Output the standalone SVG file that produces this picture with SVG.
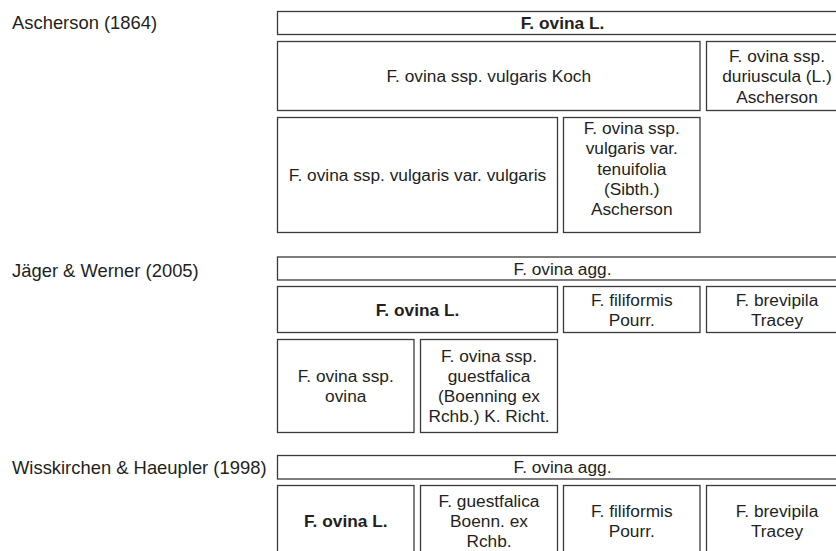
<svg xmlns="http://www.w3.org/2000/svg" width="836" height="551" viewBox="0 0 836 551">
<style>
rect { fill: #fff; stroke: #3a3a3a; stroke-width: 1.3; }
text { font-family: "Liberation Sans", Arial, sans-serif; fill: #231f20; }
.t { font-size: 17.3px; text-anchor: middle; }
.b { font-weight: bold; }
.lab { font-size: 18.4px; }
</style>
<rect x="0" y="0" width="836" height="551" style="stroke:none"/>
<g id="labels">
<text class="lab" x="12" y="29.3">Ascherson (1864)</text>
<text class="lab" x="12" y="277.3">Jäger &amp; Werner (2005)</text>
<text class="lab" x="12" y="474.3">Wisskirchen &amp; Haeupler (1998)</text>
</g>
<g id="connectors"></g>
<g id="a-ovina">
<rect x="277.5" y="11.5" width="570" height="23"/>
<text class="t b" x="562.5" y="29">F. ovina L.</text>
</g>
<g id="a-vulgaris">
<rect x="277.5" y="41.5" width="422.5" height="69"/>
<text class="t" x="488.75" y="82">F. ovina ssp. vulgaris Koch</text>
</g>
<g id="a-duriuscula">
<rect x="706.5" y="41.5" width="141" height="69"/>
<text class="t" x="777" y="61.5">F. ovina ssp.</text>
<text class="t" x="777" y="82">duriuscula (L.)</text>
<text class="t" x="777" y="102.5">Ascherson</text>
</g>
<g id="a-var-vulgaris">
<rect x="277.5" y="117.5" width="280" height="115"/>
<text class="t" x="417.5" y="181">F. ovina ssp. vulgaris var. vulgaris</text>
</g>
<g id="a-tenuifolia">
<rect x="563.5" y="117.5" width="136.5" height="115"/>
<text class="t" x="631.75" y="134">F. ovina ssp.</text>
<text class="t" x="631.75" y="154.3">vulgaris var.</text>
<text class="t" x="631.75" y="174.6">tenuifolia</text>
<text class="t" x="631.75" y="194.9">(Sibth.)</text>
<text class="t" x="631.75" y="215.2">Ascherson</text>
</g>
<g id="j-agg">
<rect x="277.5" y="257" width="570" height="23"/>
<text class="t" x="562.5" y="274.5">F. ovina agg.</text>
</g>
<g id="j-ovina">
<rect x="277.5" y="286.5" width="280" height="46"/>
<text class="t b" x="417.5" y="315.5">F. ovina L.</text>
</g>
<g id="j-filiformis">
<rect x="563.5" y="286.5" width="136.5" height="46"/>
<text class="t" x="631.75" y="305.5">F. filiformis</text>
<text class="t" x="631.75" y="325.5">Pourr.</text>
</g>
<g id="j-brevipila">
<rect x="706.5" y="286.5" width="141" height="46"/>
<text class="t" x="777" y="305.5">F. brevipila</text>
<text class="t" x="777" y="325.5">Tracey</text>
</g>
<g id="j-ssp-ovina">
<rect x="277.5" y="339.5" width="136.5" height="93"/>
<text class="t" x="345.75" y="382">F. ovina ssp.</text>
<text class="t" x="345.75" y="402">ovina</text>
</g>
<g id="j-guestfalica">
<rect x="420.5" y="339.5" width="137" height="93"/>
<text class="t" x="489" y="362">F. ovina ssp.</text>
<text class="t" x="489" y="382">guestfalica</text>
<text class="t" x="489" y="402">(Boenning ex</text>
<text class="t" x="489" y="422">Rchb.) K. Richt.</text>
</g>
<g id="w-agg">
<rect x="277.5" y="455.5" width="570" height="23.5"/>
<text class="t" x="562.5" y="473">F. ovina agg.</text>
</g>
<g id="w-ovina">
<rect x="277.5" y="485.5" width="136.5" height="71"/>
<text class="t b" x="345.75" y="527">F. ovina L.</text>
</g>
<g id="w-guestfalica">
<rect x="420.5" y="485.5" width="137" height="71"/>
<text class="t" x="489" y="507">F. guestfalica</text>
<text class="t" x="489" y="527">Boenn. ex</text>
<text class="t" x="489" y="547">Rchb.</text>
</g>
<g id="w-filiformis">
<rect x="563.5" y="485.5" width="136.5" height="71"/>
<text class="t" x="631.75" y="517">F. filiformis</text>
<text class="t" x="631.75" y="537">Pourr.</text>
</g>
<g id="w-brevipila">
<rect x="706.5" y="485.5" width="141" height="71"/>
<text class="t" x="777" y="517">F. brevipila</text>
<text class="t" x="777" y="537">Tracey</text>
</g>
</svg>
